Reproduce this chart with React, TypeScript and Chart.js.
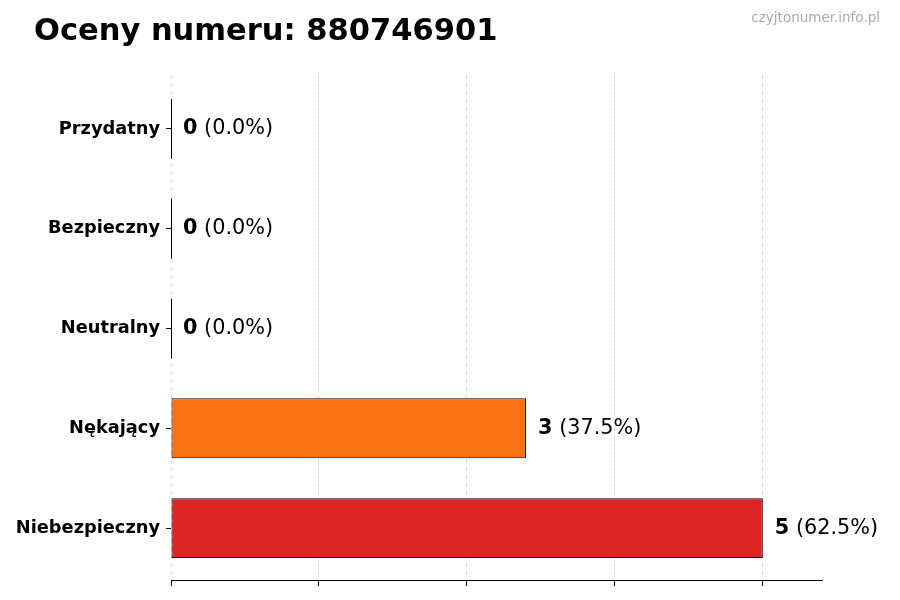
import React, { useEffect, useRef } from 'react';
import { Chart, registerables } from 'chart.js';

Chart.register(...registerables);

const title = 'Oceny numeru: 880746901';
const watermark = 'czyjtonumer.info.pl';
const categories = ['Przydatny', 'Bezpieczny', 'Neutralny', 'Nękający', 'Niebezpieczny'];
const counts = [0, 0, 0, 3, 5];
const barColors = ['#16a34a', '#2563eb', '#9ca3af', '#f97316', '#dc2626'];
const xTicks = [0, 1.25, 2.5, 3.75, 5];
const xMax = 5.5;
// y range like matplotlib's default margins around the bars
const yMin = -0.54;
const yMax = 4.52;

const FONT = '"DejaVu Sans", sans-serif';

const decorPlugin = {
  id: 'decor',
  afterDatasetsDraw(chart: any) {
    const { ctx } = chart;
    const meta = chart.getDatasetMeta(0);
    const data = chart.data.datasets[0].data as number[];
    const total = data.reduce((a, b) => a + b, 0);
    ctx.save();
    meta.data.forEach((bar: any, i: number) => {
      const v = data[i];
      const { x, y, base, height } = bar.getProps(['x', 'y', 'base', 'height'], true);
      if (v === 0) {
        ctx.strokeStyle = '#000';
        ctx.lineWidth = 1;
        ctx.beginPath();
        ctx.moveTo(base + 0.5, y - height / 2);
        ctx.lineTo(base + 0.5, y + height / 2);
        ctx.stroke();
      }
      const pct = total ? (v / total) * 100 : 0;
      const boldPart = String(v);
      const rest = ` (${pct.toFixed(1)}%)`;
      let tx = x + 12;
      ctx.textBaseline = 'middle';
      ctx.textAlign = 'left';
      ctx.fillStyle = '#000';
      ctx.font = `bold 20.8px ${FONT}`;
      ctx.fillText(boldPart, tx, y);
      tx += ctx.measureText(boldPart).width;
      ctx.font = `20.8px ${FONT}`;
      ctx.fillText(rest, tx, y);
    });
    ctx.restore();
  },
  afterDraw(chart: any) {
    const { ctx } = chart;
    ctx.save();
    ctx.textBaseline = 'alphabetic';
    ctx.fillStyle = '#000';
    ctx.textAlign = 'left';
    ctx.font = `bold 30.5px ${FONT}`;
    ctx.fillText(title, 34, 40);
    ctx.fillStyle = '#aaaaaa';
    ctx.textAlign = 'right';
    ctx.font = `13.5px ${FONT}`;
    ctx.fillText(watermark, 880, 22);
    ctx.restore();
  },
};

export default function App() {
  const canvasRef = useRef<HTMLCanvasElement>(null);

  useEffect(() => {
    const el = canvasRef.current;
    if (!el) return;
    const chart = new Chart(el, {
      type: 'bar',
      data: {
        labels: categories,
        datasets: [{
          data: counts,
          backgroundColor: barColors,
          borderColor: '#000',
          borderWidth: 1,
          borderSkipped: false,
          categoryPercentage: 1,
          barPercentage: 0.6,
        }],
      },
      options: {
        indexAxis: 'y',
        responsive: false,
        animation: false,
        devicePixelRatio: 1,
        layout: { padding: { top: 75, right: 78, bottom: 0, left: 0 } },
        plugins: {
          legend: { display: false },
          tooltip: { enabled: false },
        },
        scales: {
          x: {
            min: 0,
            max: xMax,
            z: 1,
            afterBuildTicks: (s: any) => { s.ticks = xTicks.map((v) => ({ value: v })); },
            afterFit: (s: any) => { s.height = 20; },
            ticks: { display: false },
            grid: {
              color: 'rgba(128,128,128,0.3)',
              lineWidth: 1,
              drawTicks: true,
              tickLength: 6,
              tickColor: '#000',
              tickBorderDash: [],
            },
            border: { display: true, color: '#000', width: 1, dash: [4, 4] },
          },
          y: {
            offset: true,
            afterBuildTicks: (s: any) => {
              s._startValue = yMin;
              s._valueRange = yMax - yMin;
            },
            afterFit: (s: any) => { s.width = 171; },
            ticks: {
              color: '#000',
              padding: 6,
              font: { family: FONT, size: 17.8, weight: 'bold' },
            },
            grid: {
              offset: false,
              drawOnChartArea: false,
              drawTicks: true,
              tickLength: 5,
              tickColor: '#000',
            },
            border: { display: false },
          },
        },
      },
      plugins: [decorPlugin],
    });
    return () => chart.destroy();
  }, []);

  return (
    <div style={{ position: 'fixed', left: 0, top: 0, width: 900, height: 600, background: '#fff' }}>
      <canvas ref={canvasRef} width={900} height={600} style={{ width: 900, height: 600 }} />
    </div>
  );
}
